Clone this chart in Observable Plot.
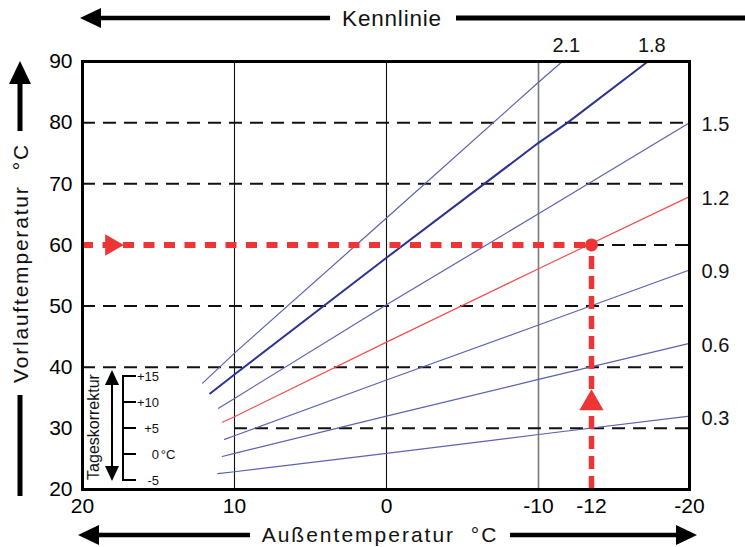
<!DOCTYPE html>
<html><head><meta charset="utf-8">
<script src="https://cdn.jsdelivr.net/npm/d3@7"></script>
<script src="https://cdn.jsdelivr.net/npm/@observablehq/plot@0.6"></script>
<style>body{margin:0;background:#fff} svg{display:block}</style>
</head><body><div id="chart"></div>
<script>
// ---- data ----
const curveNames = ["2.1", "1.8", "1.5", "1.2", "0.9", "0.6", "0.3"];
const outdoor_2_1 = [12.1, 10, 0, -10, -10.9];
const flow_2_1    = [37.4, 42.3, 64.4, 86.6, 90];
const outdoor_1_8 = [11.6, 10, 0, -10, -11.1, -16.6];
const flow_1_8    = [35.7, 38.8, 57.9, 76.7, 80, 90];
const outdoor_1_5 = [11.05, 10, 0, -10, -20];
const flow_1_5    = [33.3, 34.9, 50.2, 65.1, 80];
const outdoor_1_2 = [10.8, 10, 0, -10, -20];
const flow_1_2    = [31.0, 31.9, 44.1, 56.1, 67.9];
const outdoor_0_9 = [10.66, 10, 0, -10, -20];
const flow_0_9    = [28.2, 28.8, 37.9, 46.9, 55.9];
const outdoor_0_6 = [10.8, 10, 0, -10, -20];
const flow_0_6    = [25.4, 25.9, 32.0, 38.0, 43.9];
const outdoor_0_3 = [11.1, 10, 0, -10, -20];
const flow_0_3    = [22.6, 22.9, 25.9, 29.0, 32.0];

const xTickValues = [20, 10, 0, -10, -12, -20];
const yTickValues = [20, 30, 40, 50, 60, 70, 80, 90];
const xGrid = [10, 0, -10];
const dashedFull = [80, 70, 50, 40];
const designOutdoor = -12;   // Auslegungs-Außentemperatur
const designFlow = 60;       // Vorlauftemperatur bei -12 °C
const tagesTicks = [15, 10, 5, 0, -5];
const tagesTickLabels = ["+15", "+10", "+5", "0", "-5"];

const outdoorSets = [outdoor_2_1, outdoor_1_8, outdoor_1_5, outdoor_1_2, outdoor_0_9, outdoor_0_6, outdoor_0_3];
const flowSets = [flow_2_1, flow_1_8, flow_1_5, flow_1_2, flow_0_9, flow_0_6, flow_0_3];

const lineData = [];
curveNames.forEach((name, i) => outdoorSets[i].forEach((t, j) =>
  lineData.push({curve: name, outdoor: t, flow: flowSets[i][j]})));
const endPoints = curveNames.map((name, i) => ({
  curve: name,
  outdoor: outdoorSets[i][outdoorSets[i].length - 1],
  flow: flowSets[i][flowSets[i].length - 1]
}));

const RED = "#ee3535";
const BLUE = "#5c62b0";
const DARK = "#2c3290";
const font = "'Liberation Sans', Arial, Helvetica, sans-serif";

const plot = Plot.plot({
  width: 745, height: 547,
  marginLeft: 82, marginRight: 56, marginTop: 61, marginBottom: 58,
  x: {type: "linear", domain: [20, -10, -12, -20], range: [82, 538, 591, 689]},
  y: {domain: [20, 90]},
  style: {fontFamily: font, background: "white", overflow: "visible"},
  marks: [
    Plot.ruleX(xGrid, {stroke: d => d === -10 ? "#7a7a7a" : "#111", strokeWidth: d => d === -10 ? 1.6 : 1.1}),
    Plot.ruleY(dashedFull, {stroke: "#111", strokeWidth: 2, strokeDasharray: "13,8"}),
    Plot.ruleY([designFlow], {x1: designOutdoor, x2: -20, stroke: "#111", strokeWidth: 2, strokeDasharray: "13,8"}),
    Plot.ruleY([30], {x1: 10, x2: -20, stroke: "#111", strokeWidth: 2, strokeDasharray: "13,8"}),
    Plot.line(lineData.filter(d => d.curve !== "1.8" && d.curve !== "1.2"),
      {x: "outdoor", y: "flow", z: "curve", stroke: BLUE, strokeWidth: 1.2}),
    Plot.line(lineData.filter(d => d.curve === "1.8"),
      {x: "outdoor", y: "flow", stroke: DARK, strokeWidth: 2}),
    Plot.line(lineData.filter(d => d.curve === "1.2"),
      {x: "outdoor", y: "flow", stroke: "#f05050", strokeWidth: 1.2}),
    // red reading guide
    Plot.ruleY([designFlow], {x1: 20, x2: designOutdoor, stroke: RED, strokeWidth: 6, strokeDasharray: "11,9.5"}),
    Plot.ruleX([designOutdoor], {y1: 20, y2: designFlow, stroke: RED, strokeWidth: 5.5, strokeDasharray: "13,7"}),
    Plot.dot([{x: designOutdoor, y: designFlow}], {x: "x", y: "y", r: 6.5, fill: RED}),
    Plot.dot([{x: 18.1, y: designFlow}], {x: "x", y: "y", symbol: "triangle", r: 8, fill: RED, rotate: 90}),
    Plot.dot([{x: designOutdoor, y: 34.1}], {x: "x", y: "y", symbol: "triangle", r: 9, fill: RED}),
    // curve labels
    Plot.text(endPoints.filter(d => d.flow >= 90), {x: "outdoor", y: "flow", text: "curve", dx: 4, dy: -16, fontSize: 20, fill: "#111"}),
    Plot.text(endPoints.filter(d => d.flow < 90), {x: "outdoor", y: "flow", text: "curve", dx: 12, dy: 2, textAnchor: "start", fontSize: 20, fill: "#111"}),
    Plot.axisX({ticks: xTickValues, tickSize: 0, tickPadding: 9, fontSize: 21, tickFormat: d => String(d), label: null}),
    Plot.axisY({ticks: yTickValues, tickSize: 0, tickPadding: 10, fontSize: 21, tickFormat: d => String(d), label: null}),
    Plot.frame({stroke: "#000", strokeWidth: 3})
  ]
});
document.getElementById("chart").appendChild(plot);

// ---- decorations (arrows, titles, inset) ----
const svg = d3.select(plot);
const g = svg.append("g").attr("font-family", font).attr("fill", "#111");
function tri(points) { g.append("polygon").attr("points", points.map(p => p.join(",")).join(" ")).attr("fill", "#000"); }
function hline(x1, x2, y, w) { g.append("line").attr("x1", x1).attr("x2", x2).attr("y1", y).attr("y2", y).attr("stroke", "#000").attr("stroke-width", w); }
function vline(x, y1, y2, w) { g.append("line").attr("x1", x).attr("x2", x).attr("y1", y1).attr("y2", y2).attr("stroke", "#000").attr("stroke-width", w); }

// top: Kennlinie
tri([[80, 18], [101, 8], [101, 28]]);
hline(98, 330, 18, 4.5);
g.append("text").attr("x", 392).attr("y", 18).attr("dy", "0.35em").attr("text-anchor", "middle")
  .attr("font-size", 22.5).attr("letter-spacing", 0.8).text("Kennlinie");
hline(456, 745, 18, 5);

// left: Vorlauftemperatur
tri([[20, 61], [9, 84], [31, 84]]);
vline(20, 82, 131, 5);
g.append("text").attr("transform", "translate(21,263) rotate(-90)").attr("dy", "0.35em").attr("text-anchor", "middle")
  .attr("font-size", 21).attr("letter-spacing", 1.8).text("Vorlauftemperatur  °C");
vline(20, 395, 496, 5);

// bottom: Außentemperatur
tri([[78, 535], [99, 525], [99, 545]]);
hline(96, 250, 535, 4.5);
g.append("text").attr("x", 380).attr("y", 535).attr("dy", "0.35em").attr("text-anchor", "middle")
  .attr("font-size", 21).attr("letter-spacing", 2).text("Außentemperatur  °C");
hline(510, 680, 535, 4.5);
tri([[697, 535], [676, 525], [676, 545]]);

// inset: Tageskorrektur
const ty = d3.scaleLinear().domain([-5, 15]).range([480, 376]);
vline(123, ty(15), ty(-5), 2);
tagesTicks.forEach((t, i) => {
  hline(122, 136, ty(t), 2);
  g.append("text").attr("x", 159).attr("y", ty(t)).attr("dy", "0.35em").attr("text-anchor", "end")
    .attr("font-size", 13).text(tagesTickLabels[i]);
});
g.append("text").attr("x", 168).attr("y", ty(0)).attr("dy", "0.35em").attr("font-size", 13).text("°C");
vline(112, 380, 472, 2);
tri([[112, 370], [105, 385], [119, 385]]);
tri([[112, 481], [105, 466], [119, 466]]);
g.append("text").attr("transform", "translate(93,427) rotate(-90)").attr("dy", "0.35em").attr("text-anchor", "middle")
  .attr("font-size", 16).text("Tageskorrektur");
</script>
</body></html>
